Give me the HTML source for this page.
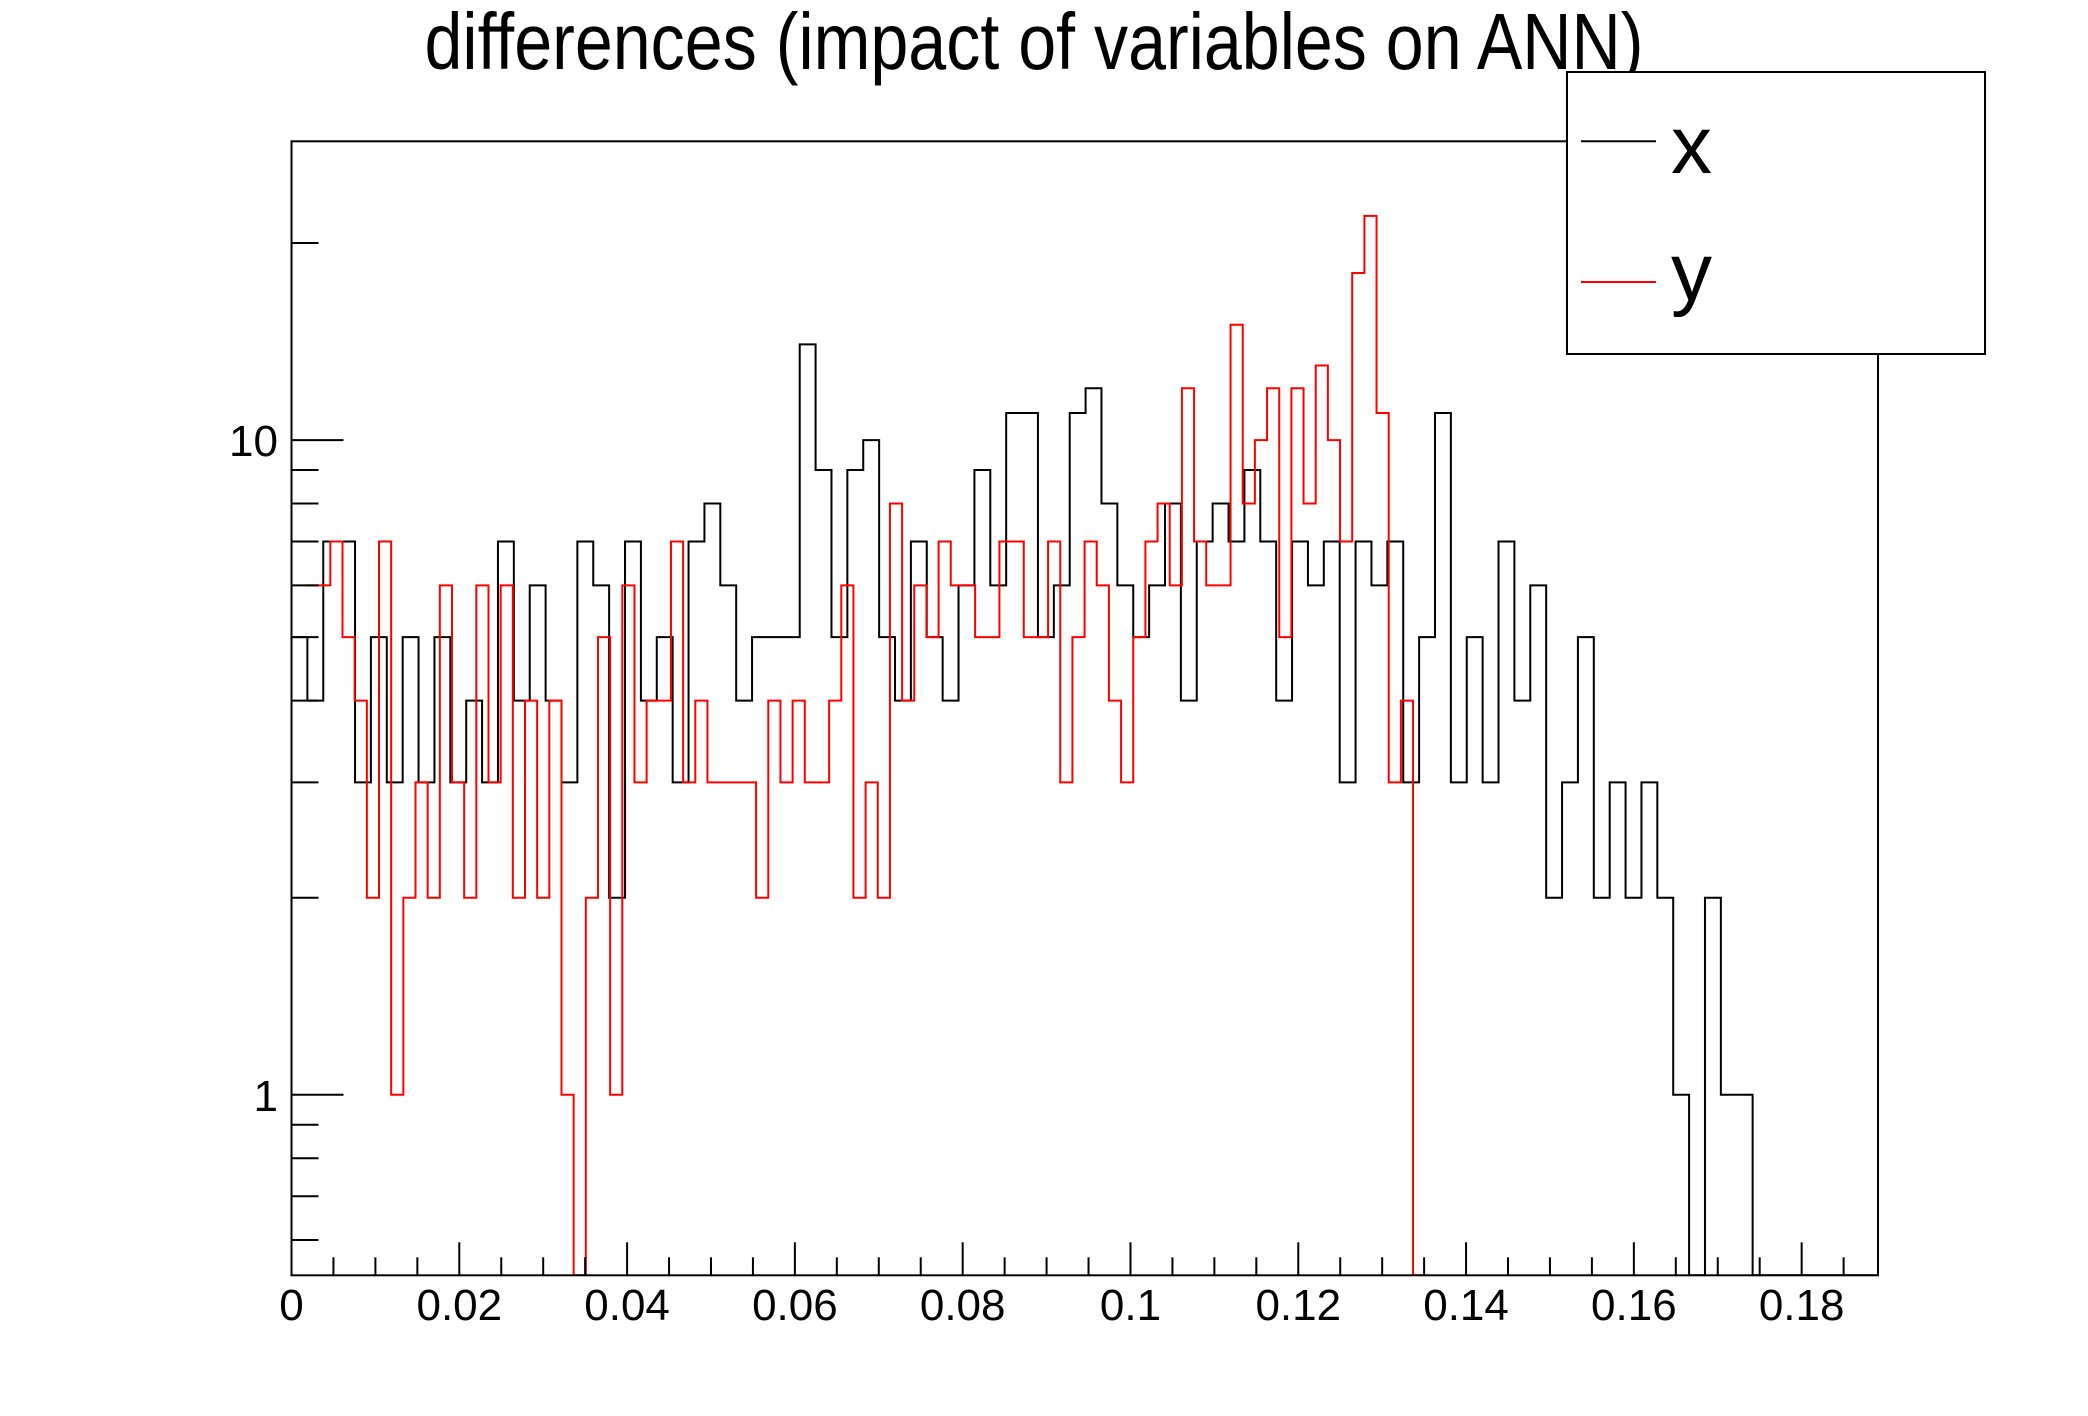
<!DOCTYPE html>
<html><head><meta charset="utf-8"><style>
html,body{margin:0;padding:0;background:#fff;}
svg{display:block;}
text{font-family:"Liberation Sans",Arial,sans-serif;fill:#000;}
</style></head><body>
<svg id="chart" width="2088" height="1416" viewBox="0 0 2088 1416" xmlns="http://www.w3.org/2000/svg">
<rect x="0" y="0" width="2088" height="1416" fill="#fff"/>
<text x="1034" y="69" font-size="80" text-anchor="middle" textLength="1219" lengthAdjust="spacingAndGlyphs">differences (impact of variables on ANN)</text>
<defs><clipPath id="plotclip"><rect x="291.5" y="141.3" width="1586.5" height="1134"/></clipPath></defs>
<g id="series" clip-path="url(#plotclip)"></g>
<rect x="291.5" y="141.3" width="1586.5" height="1134" fill="none" stroke="#000" stroke-width="2"/>
<g id="axes"></g>
<g>
<rect x="1567" y="72" width="418" height="282" fill="#fff" stroke="#000" stroke-width="2"/>
<line x1="1581" y1="141.3" x2="1656" y2="141.3" stroke="#000" stroke-width="2"/>
<text x="1671" y="173" font-size="82">x</text>
<line x1="1581" y1="282" x2="1656" y2="282" stroke="#ff0000" stroke-width="2"/>
<text x="1671" y="300" font-size="82">y</text>
</g>
</svg>
<script>
const xTickLabels = ["0","0.02","0.04","0.06","0.08","0.1","0.12","0.14","0.16","0.18"];
const xTickValues = [0,0.02,0.04,0.06,0.08,0.1,0.12,0.14,0.16,0.18];
const yTickLabels = ["1","10"];
const yTickValues = [1,10];
const seriesXValues = [5,4,7,7,3,5,3,5,3,5,3,4,3,7,4,6,4,3,7,6,2,7,4,5,3,7,8,6,4,5,5,5,14,9,5,9,10,5,4,7,5,4,6,9,6,11,11,5,6,11,12,8,6,5,6,8,4,7,8,7,9,7,4,7,6,7,3,7,6,7,3,5,11,3,5,3,7,4,6,2,3,5,2,3,2,3,2,1,0,2,1,1,0,0,0,0,0,0,0,0];
const seriesXBinStart = 0;
const seriesXBinWidth = 0.001893;
const seriesYValues = [6,6,7,5,4,2,7,1,2,3,2,6,3,2,6,3,6,2,4,2,4,1,0,2,5,1,6,3,4,4,7,3,4,3,3,3,3,2,4,3,4,3,3,4,6,2,3,2,8,4,6,5,7,6,6,5,5,7,7,5,5,7,3,5,7,6,4,3,5,7,8,6,12,7,6,6,15,8,10,12,5,12,8,13,10,7,18,22,11,3,4,0];
const seriesYBinStart = 0.00173;
const seriesYBinWidth = 0.00145;

const NS = "http://www.w3.org/2000/svg";
const L = 291.5, R = 1878, T = 141.3, B = 1275.3;
const XMIN = 0, XMAX = 0.1891;
const YMIN = 0.530, YMAX = 28.6;
function xs(v){ return L + (v - XMIN) / (XMAX - XMIN) * (R - L); }
function ys(v){
  if (v <= YMIN) return B;
  return B - (Math.log10(v) - Math.log10(YMIN)) / (Math.log10(YMAX) - Math.log10(YMIN)) * (B - T);
}
function mk(tag, attrs){
  const e = document.createElementNS(NS, tag);
  for (const k in attrs) e.setAttribute(k, attrs[k]);
  return e;
}
function stepPath(vals, start, w){
  let d = "";
  for (let i = 0; i < vals.length; i++){
    const x0 = xs(start + i * w), x1 = xs(start + (i + 1) * w), y = ys(vals[i]);
    d += (i === 0 ? "M" : "L") + x0.toFixed(2) + "," + y.toFixed(2) + "L" + x1.toFixed(2) + "," + y.toFixed(2);
  }
  d += "L" + xs(start + vals.length * w).toFixed(2) + "," + B;
  return d;
}
const sg = document.getElementById("series");
const pX = mk("path", {d: stepPath(seriesXValues, seriesXBinStart, seriesXBinWidth), fill: "none", stroke: "#000", "stroke-width": 2});


sg.appendChild(pX);
const pY = mk("path", {d: stepPath(seriesYValues, seriesYBinStart, seriesYBinWidth), fill: "none", stroke: "#ff0000", "stroke-width": 2});


sg.appendChild(pY);

const ag = document.getElementById("axes");
for (let k = 1; k * 0.005 < XMAX; k++){
  const v = k * 0.005;
  const major = Math.abs(v / 0.02 - Math.round(v / 0.02)) < 1e-6;
  const t = mk("line", {x1: xs(v), x2: xs(v), y1: B, y2: B - (major ? 33 : 18), stroke: "#000", "stroke-width": 2});
  
  
  ag.appendChild(t);
}
for (let i = 0; i < xTickValues.length; i++){
  const t = mk("text", {x: xs(xTickValues[i]), y: 1320, "font-size": 44, "text-anchor": "middle"});
  t.textContent = xTickLabels[i];
  
  
  ag.appendChild(t);
}
for (let e = -1; e <= 1; e++){
  for (let m = 1; m <= 9; m++){
    const v = m * Math.pow(10, e);
    if (v < YMIN || v > YMAX) continue;
    const major = (m === 1);
    const t = mk("line", {x1: L, x2: L + (major ? 52 : 27), y1: ys(v), y2: ys(v), stroke: "#000", "stroke-width": 2});
    
    
    ag.appendChild(t);
  }
}
for (let i = 0; i < yTickValues.length; i++){
  const t = mk("text", {x: 278, y: ys(yTickValues[i]) + 16, "font-size": 44, "text-anchor": "end"});
  t.textContent = yTickLabels[i];
  
  
  ag.appendChild(t);
}
</script>
</body></html>
